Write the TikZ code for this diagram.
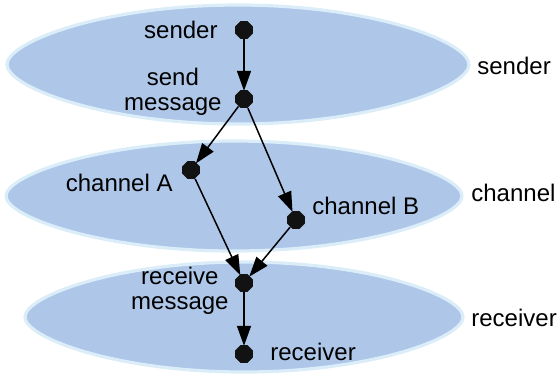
\documentclass[tikz,border=0pt]{standalone}
\usepackage{fontspec}
\setmainfont{Liberation Sans}
\usetikzlibrary{arrows.meta,shapes.geometric,calc}
\definecolor{layerfill}{HTML}{AEC6E8}
\definecolor{layerrim}{HTML}{DAEDF8}
\tikzset{
  layer/.style={fill=layerfill, draw=layerrim, line width=1.6pt},
  dot/.style={regular polygon, regular polygon sides=8, fill=black!93, inner sep=0pt, minimum size=9.5pt},
  flow/.style={line width=0.75pt, -{Triangle[length=10pt,width=7pt]}, shorten >=-0.5pt},
  lbl/.style={font=\fontsize{12pt}{12pt}\selectfont, inner sep=0pt, align=center},
}
% almond-shaped layer outline: centre (#1,#2), half-width #3, half-height #4
\newcommand\layeroutline[4]{%
  \path[layer] (#1-#3,#2)
    .. controls (#1-#3,#2-0.38*#4) and (#1-0.58*#3,#2-#4) .. (#1,#2-#4)
    .. controls (#1+0.58*#3,#2-#4) and (#1+#3,#2-0.38*#4) .. (#1+#3,#2)
    .. controls (#1+#3,#2+0.38*#4) and (#1+0.58*#3,#2+#4) .. (#1,#2+#4)
    .. controls (#1-0.58*#3,#2+#4) and (#1-#3,#2+0.38*#4) .. cycle;}
\begin{document}
\begin{tikzpicture}[x=0.5pt,y=-0.5pt]
  \useasboundingbox (0,0) rectangle (558,376);
  % three layers
  \layeroutline{238}{64.5}{231}{59.5}
  \layeroutline{234}{196}{228}{55}
  \layeroutline{244}{317}{219}{55}

  % layer names
  \node[lbl, anchor=west] (lsender) at (477,66) {sender};
  \node[lbl, anchor=west] (lchannel) at (471,193) {channel};
  \node[lbl, anchor=west] (lreceiver) at (471,318) {receiver};

  % events
  \node[dot] (snd) at (244,30) {};
  \node[dot] (sm) at (244,99) {};
  \node[dot] (ca) at (191,170) {};
  \node[dot] (cb) at (296,220) {};
  \node[dot] (rm) at (244,283) {};
  \node[dot] (rcv) at (244,354) {};

  % event labels
  \node[lbl, anchor=east] (tsnd) at (218,30) {sender};
  \node[lbl, anchor=east, align=center] (tsm) at (222,92) {send\\[0.5pt]message};
  \node[lbl, anchor=east] (tca) at (173,183) {channel A};
  \node[lbl, anchor=west] (tcb) at (312,206) {channel B};
  \node[lbl, anchor=east, align=center] (trm) at (229,291) {receive\\[0.5pt]message};
  \node[lbl, anchor=west] (trcv) at (270,352) {receiver};

  % causal edges
  \draw[flow] (snd) -- (sm);
  \draw[flow] (sm) -- (ca);
  \draw[flow] (sm) -- (cb);
  \draw[flow] (ca) -- (rm);
  \draw[flow] (cb) -- (rm);
  \draw[flow] (rm) -- (rcv);
\end{tikzpicture}
\end{document}
